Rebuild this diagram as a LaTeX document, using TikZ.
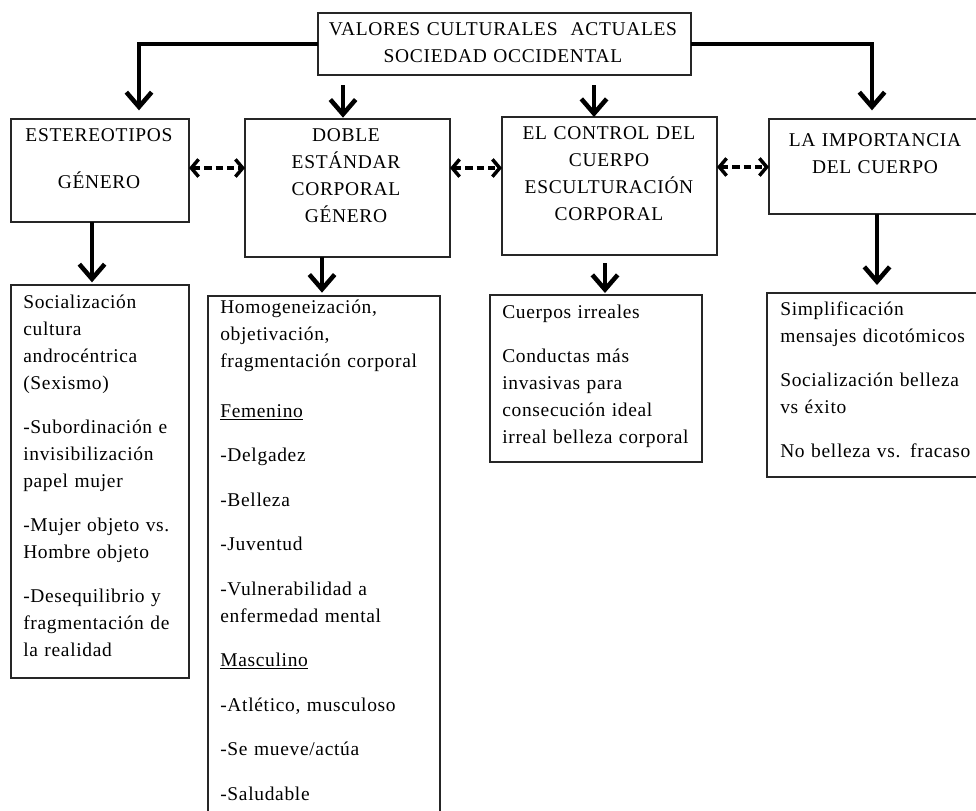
\documentclass[tikz,border=0pt]{standalone}
\usepackage{fontspec}
\setmainfont{Liberation Serif}[LetterSpace=3.5]
\usetikzlibrary{arrows.meta,calc}
\newcommand\mkbox[5]{\node[box, minimum width={(#4-#2)*0.75pt}, minimum height={(#5-#3)*0.75pt}] (#1) at ({(#2+#4)/2},{(#3+#5)/2}) {};}
\tikzset{
  box/.style={draw=black!85, line width=1.1pt, rectangle, inner sep=0pt, outer sep=0pt},
  body/.style={inner sep=0pt, anchor=base west, align=left, text width=220pt,
    font=\fontsize{14.6pt}{20.25pt}\selectfont, text=black},
  head/.style={inner sep=0pt, anchor=base, align=center, text width=#1,
    font=\fontsize{14.6pt}{20.25pt}\selectfont, text=black},
  bigarr/.style={line width=3.4pt, -{Straight Barb[length=11pt,width=19pt]}},
  dasharr/.style={line width=2.6pt, dash pattern=on 5.5pt off 3pt,
    {Straight Barb[length=5.5pt,width=13pt]}-{Straight Barb[length=5.5pt,width=13pt]}}
}
\begin{document}
\begin{tikzpicture}[x=0.75pt,y=-0.75pt]
\useasboundingbox (0,0) rectangle (976,811);
\clip (0,0) rectangle (976,811);
\fill[white] (0,0) rectangle (976,811);

% boxes
\mkbox{T}{318}{13}{691}{75}
\mkbox{E}{11}{119}{189}{222}
\mkbox{D}{245}{119}{450}{257}
\mkbox{C}{502}{117}{717}{255}
\mkbox{I}{769}{119}{981}{214}
\mkbox{A}{11}{285}{189}{678}
\mkbox{B}{208}{296}{440}{830}
\mkbox{Cb}{490}{295}{702}{462}
\mkbox{Db}{767}{293}{981}{477}

% headings
\node[head=270pt] (tT) at (503,35) {VALORES CULTURALES\ \ ACTUALES\\SOCIEDAD OCCIDENTAL};
\node[head=125pt] (tE) at (99,141) {ESTEREOTIPOS\\[15pt]GÉNERO};
\node[head=148pt] (tD) at (346,141) {DOBLE\\ESTÁNDAR\\CORPORAL\\GÉNERO};
\node[head=155pt] (tC) at (609,139) {EL CONTROL DEL\\CUERPO\\ESCULTURACIÓN\\CORPORAL};
\node[head=155pt] (tI) at (875,146) {LA IMPORTANCIA\\DEL CUERPO};

% body texts
\node[body] (tA) at (23,308) {Socialización\\cultura\\androcéntrica\\(Sexismo)\\[12.75pt]
-Subordinación e\\invisibilización\\papel mujer\\[12.75pt]
-Mujer objeto vs.\\Hombre objeto\\[12.75pt]
-Desequilibrio y\\fragmentación de\\la realidad};
\node[body] (tB) at (220,313) {Homogeneización,\\objetivación,\\fragmentación corporal\\[17.5pt]
\underline{Femenino}\\[13.1pt]
-Delgadez\\[13.1pt]
-Belleza\\[13.1pt]
-Juventud\\[13.1pt]
-Vulnerabilidad a\\enfermedad mental\\[13.1pt]
\underline{Masculino}\\[13.1pt]
-Atlético, musculoso\\[13.1pt]
-Se mueve/actúa\\[13.1pt]
-Saludable};
\node[body] (tCb) at (502,318) {Cuerpos irreales\\[12.75pt]
Conductas más\\invasivas para\\consecución ideal\\irreal belleza corporal};
\node[body] (tDb) at (780,315) {Simplificación\\mensajes dicotómicos\\[12.75pt]
Socialización belleza\\vs éxito\\[12.75pt]
No belleza vs. fracaso};

% arrow x positions
\coordinate (xE) at (139,0);
\coordinate (xI) at (872,0);
\coordinate (xD) at (343,0);
\coordinate (xC) at (594,0);
\coordinate (xA) at (92,0);
\coordinate (xB) at (322,0);
\coordinate (xCb) at (605,0);
\coordinate (xDb) at (877,0);
\coordinate (yd) at (0,168);
\coordinate (yd2) at (0,167);

% connectors from the top box
\draw[bigarr, shorten >=6.5pt] (T.west) -| (xE |- E.north);
\draw[bigarr, shorten >=6.5pt] (T.east) -| (xI |- I.north);
\draw[bigarr, shorten <=7.5pt, shorten >=1pt] (xD |- T.south) -- (xD |- D.north);
\draw[bigarr, shorten <=7.5pt] (xC |- T.south) -- (xC |- C.north);

% dashed double arrows
\draw[dasharr] (E.east |- yd) -- (D.west |- yd);
\draw[dasharr] (D.east |- yd) -- (C.west |- yd);
\draw[dasharr] (C.east |- yd2) -- (I.west |- yd2);

% connectors to the lower boxes
\draw[bigarr, shorten >=2pt] (xA |- E.south) -- (xA |- A.north);
\draw[bigarr, shorten >=2.5pt] (xB |- D.south) -- (xB |- B.north);
\draw[bigarr, shorten <=6pt, shorten >=1.5pt] (xCb |- C.south) -- (xCb |- Cb.north);
\draw[bigarr, shorten >=6pt] (xDb |- I.south) -- (xDb |- Db.north);
\end{tikzpicture}
\end{document}
